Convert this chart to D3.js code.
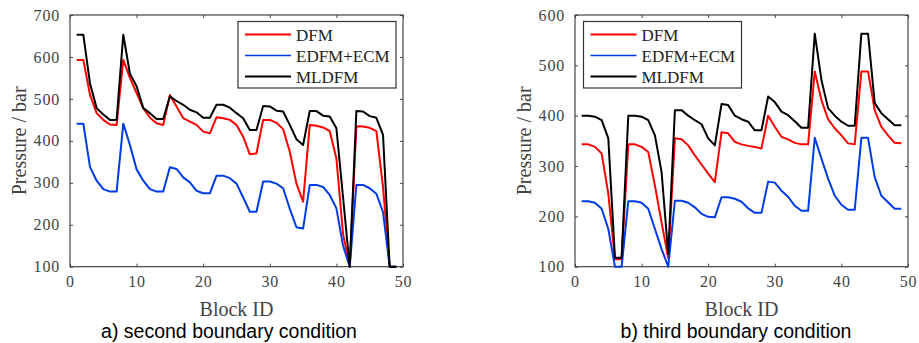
<!DOCTYPE html>
<html>
<head>
<meta charset="utf-8">
<script src="https://cdn.jsdelivr.net/npm/d3@7"></script>
<style>
  body { margin: 0; background: #fff; }
  svg { display: block; }
</style>
</head>
<body>
<svg id="chart" width="919" height="343"></svg>
<script>
// Block IDs shared by both panels
var blockIds = [1, 2, 3, 4, 5, 6, 7, 8, 9, 10, 11, 12, 13, 14, 15, 16, 17, 18, 19, 20,
  21, 22, 23, 24, 25, 26, 27, 28, 29, 30, 31, 32, 33, 34, 35, 36, 37, 38, 39, 40,
  41, 42, 43, 44, 45, 46, 47, 48, 49];

var seriesNames = ["DFM", "EDFM+ECM", "MLDFM"];

// a) second boundary condition
var secondDFM = [593, 593, 510, 466, 450, 439, 438, 593, 550, 514, 478, 455, 442, 438,
  509, 482, 454, 446, 438, 422, 418, 456, 454, 450, 438, 410, 368, 370,
  450, 450, 443, 428, 374, 298, 255, 438, 436, 432, 423, 358, 178, 100,
  435, 434, 431, 423, 290, 100, 100];
var secondEDFM = [441, 441, 338, 305, 285, 279, 279, 441, 390, 332, 305, 285, 279, 279,
  337, 333, 313, 301, 281, 275, 275, 317, 317, 311, 298, 265, 231, 231,
  303, 303, 298, 287, 238, 194, 191, 295, 295, 290, 271, 239, 150, 100,
  295, 295, 287, 274, 230, 100, 100];
var secondMLDFM = [653, 653, 537, 478, 463, 450, 450, 653, 560, 530, 478, 466, 452, 452,
  506, 495, 486, 474, 468, 455, 455, 486, 486, 479, 466, 454, 426, 426,
  483, 482, 472, 470, 438, 404, 390, 471, 471, 460, 458, 430, 265, 100,
  471, 470, 459, 455, 414, 100, 100];

// b) third boundary condition
var thirdDFM = [343, 343, 338, 325, 245, 115, 115, 343, 343, 338, 328, 261, 188, 117,
  355, 353, 341, 321, 303, 285, 268, 367, 365, 348, 343, 340, 338, 335,
  400, 378, 358, 353, 346, 343, 343, 488, 431, 393, 375, 361, 345, 343,
  488, 488, 411, 378, 361, 346, 345];
var thirdEDFM = [230, 230, 227, 215, 175, 100, 100, 230, 230, 227, 215, 175, 135, 100,
  231, 231, 227, 218, 205, 199, 198, 238, 238, 235, 229, 216, 207, 207,
  269, 267, 251, 239, 221, 211, 211, 356, 315, 275, 241, 223, 213, 213,
  356, 356, 278, 241, 228, 215, 215];
var thirdMLDFM = [400, 400, 398, 391, 355, 118, 118, 400, 400, 398, 391, 361, 288, 125,
  411, 411, 400, 391, 383, 355, 341, 423, 421, 400, 393, 388, 371, 371,
  438, 427, 408, 401, 389, 376, 376, 563, 471, 415, 400, 388, 380, 380,
  563, 563, 425, 405, 393, 381, 381];

var xTicks = [0, 10, 20, 30, 40, 50];
var secondYTicks = [100, 200, 300, 400, 500, 600, 700];
var thirdYTicks = [100, 200, 300, 400, 500, 600];

var colors = ["#ff0000", "#003ce6", "#000000"];
var axisColor = "#444";
var serif = "'Liberation Serif', 'Times New Roman', serif";

var svg = d3.select("#chart");

var drawPanel = function(opts) {
  var x = d3.scaleLinear().domain([0, 50]).range([opts.left, opts.right]);
  var y = d3.scaleLinear().domain(opts.yDomain).range([opts.bottom, opts.top]);
  var g = svg.append("g");

  // ticks inside, on all four sides (matlab box style)
  var tl = 3;
  var xAxisB = d3.axisBottom(x).tickValues(opts.xTicks).tickSizeInner(-tl).tickSizeOuter(0).tickPadding(9);
  var xAxisT = d3.axisTop(x).tickValues(opts.xTicks).tickSizeInner(-tl).tickSizeOuter(0).tickFormat("");
  var yAxisL = d3.axisLeft(y).tickValues(opts.yTicks).tickSizeInner(-tl).tickSizeOuter(0).tickPadding(10);
  var yAxisR = d3.axisRight(y).tickValues(opts.yTicks).tickSizeInner(-tl).tickSizeOuter(0).tickFormat("");

  g.append("g").attr("transform", "translate(0," + opts.bottom + ")").call(xAxisB);
  g.append("g").attr("transform", "translate(0," + opts.top + ")").call(xAxisT);
  g.append("g").attr("transform", "translate(" + opts.left + ",0)").call(yAxisL);
  g.append("g").attr("transform", "translate(" + opts.right + ",0)").call(yAxisR);

  g.selectAll(".domain").remove();
  g.selectAll(".tick line").attr("stroke", axisColor);
  g.selectAll(".tick text")
  .attr("fill", axisColor)
  .attr("font-family", serif)
  .attr("font-size", 16)
  .attr("letter-spacing", 0.8);

  g.append("rect")
  .attr("x", opts.left)
  .attr("y", opts.top)
  .attr("width", opts.right - opts.left)
  .attr("height", opts.bottom - opts.top)
  .attr("fill", "none")
  .attr("stroke", axisColor)
  .attr("stroke-width", 1.2);

  var line = d3.line()
  .x(function(d, i) { return x(blockIds[i]); })
  .y(function(d) { return y(d); });

  opts.series.forEach(function(s, k) {
    g.append("path")
    .datum(s)
    .attr("d", line)
    .attr("fill", "none")
    .attr("stroke", colors[k])
    .attr("stroke-width", 2)
    .attr("stroke-linejoin", "round");
  });

  // legend
  var lx = opts.legendX, ly = 21.5;
  g.append("rect")
  .attr("x", lx)
  .attr("y", ly)
  .attr("width", 158)
  .attr("height", 66.5)
  .attr("fill", "#fff")
  .attr("stroke", "#333")
  .attr("stroke-width", 1.2);

  seriesNames.forEach(function(name, k) {
    var ry = ly + 13 + k * 21;
    g.append("line")
    .attr("x1", lx + 7).attr("x2", lx + 53)
    .attr("y1", ry).attr("y2", ry)
    .attr("stroke", colors[k])
    .attr("stroke-width", k == 1 ? 1.5 : 2);
    g.append("text")
    .attr("x", lx + 58)
    .attr("y", ry + 6)
    .attr("font-family", serif)
    .attr("font-size", 17)
    .attr("fill", "#222")
    .text(name);
  });

  // axis titles
  g.append("text")
  .attr("x", (opts.left + opts.right) / 2)
  .attr("y", 316)
  .attr("text-anchor", "middle")
  .attr("font-family", serif)
  .attr("font-size", 20)
  .attr("fill", axisColor)
  .text("Block ID");

  g.append("text")
  .attr("transform", "translate(" + (opts.left - 44) + "," + ((opts.top + opts.bottom) / 2) + ") rotate(-90)")
  .attr("text-anchor", "middle")
  .attr("font-family", serif)
  .attr("font-size", 20)
  .attr("fill", axisColor)
  .text("Pressure / bar");

  g.append("text")
  .attr("x", opts.captionX)
  .attr("y", 338)
  .attr("text-anchor", "middle")
  .attr("font-family", "'Liberation Sans', Arial, sans-serif")
  .attr("font-size", 19.5)
  .attr("fill", "#000")
  .text(opts.caption);
};

drawPanel({
  left: 70, right: 403, top: 15, bottom: 266.7,
  yDomain: [100, 700], yTicks: secondYTicks, xTicks: xTicks,
  series: [secondDFM, secondEDFM, secondMLDFM],
  legendX: 238, captionX: 229,
  caption: "a) second boundary condition"
});

drawPanel({
  left: 575, right: 908, top: 15, bottom: 266.7,
  yDomain: [100, 600], yTicks: thirdYTicks, xTicks: xTicks,
  series: [thirdDFM, thirdEDFM, thirdMLDFM],
  legendX: 583.5, captionX: 736,
  caption: "b) third boundary condition"
});
</script>
</body>
</html>
